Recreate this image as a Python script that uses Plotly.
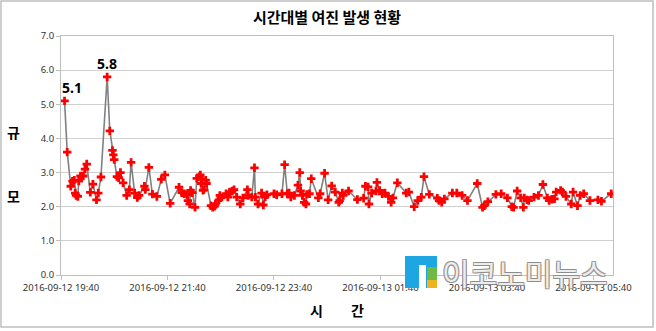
import plotly.graph_objects as go

# ---- data ----
times = [
    "2016-09-12 19:44", "2016-09-12 19:47", "2016-09-12 19:51", "2016-09-12 19:53", "2016-09-12 19:55",
    "2016-09-12 19:56", "2016-09-12 19:57", "2016-09-12 19:59", "2016-09-12 20:00", "2016-09-12 20:02",
    "2016-09-12 20:05", "2016-09-12 20:07", "2016-09-12 20:09", "2016-09-12 20:13", "2016-09-12 20:16",
    "2016-09-12 20:20", "2016-09-12 20:22", "2016-09-12 20:25", "2016-09-12 20:32", "2016-09-12 20:35",
    "2016-09-12 20:38", "2016-09-12 20:39", "2016-09-12 20:40", "2016-09-12 20:43", "2016-09-12 20:45",
    "2016-09-12 20:47", "2016-09-12 20:50", "2016-09-12 20:54", "2016-09-12 20:57", "2016-09-12 20:59",
    "2016-09-12 21:03", "2016-09-12 21:06", "2016-09-12 21:08", "2016-09-12 21:14", "2016-09-12 21:15",
    "2016-09-12 21:19", "2016-09-12 21:23", "2016-09-12 21:28", "2016-09-12 21:33", "2016-09-12 21:37",
    "2016-09-12 21:43", "2016-09-12 21:53", "2016-09-12 21:56", "2016-09-12 21:59", "2016-09-12 22:02",
    "2016-09-12 22:03", "2016-09-12 22:05", "2016-09-12 22:06", "2016-09-12 22:08", "2016-09-12 22:11",
    "2016-09-12 22:13", "2016-09-12 22:16", "2016-09-12 22:17", "2016-09-12 22:18", "2016-09-12 22:19",
    "2016-09-12 22:20", "2016-09-12 22:21", "2016-09-12 22:23", "2016-09-12 22:24", "2016-09-12 22:29",
    "2016-09-12 22:31", "2016-09-12 22:33", "2016-09-12 22:34", "2016-09-12 22:38", "2016-09-12 22:39",
    "2016-09-12 22:40", "2016-09-12 22:46", "2016-09-12 22:48", "2016-09-12 22:50", "2016-09-12 22:53",
    "2016-09-12 22:55", "2016-09-12 22:58", "2016-09-12 23:02", "2016-09-12 23:05", "2016-09-12 23:10",
    "2016-09-12 23:11", "2016-09-12 23:15", "2016-09-12 23:18", "2016-09-12 23:19", "2016-09-12 23:22",
    "2016-09-12 23:26", "2016-09-12 23:28", "2016-09-12 23:30", "2016-09-12 23:32", "2016-09-12 23:40",
    "2016-09-12 23:43", "2016-09-12 23:49", "2016-09-12 23:52", "2016-09-12 23:55", "2016-09-12 23:57",
    "2016-09-12 23:59", "2016-09-13 00:03", "2016-09-13 00:07", "2016-09-13 00:09", "2016-09-13 00:10",
    "2016-09-13 00:12", "2016-09-13 00:14", "2016-09-13 00:16", "2016-09-13 00:17", "2016-09-13 00:20",
    "2016-09-13 00:22", "2016-09-13 00:30", "2016-09-13 00:32", "2016-09-13 00:37", "2016-09-13 00:41",
    "2016-09-13 00:45", "2016-09-13 00:49", "2016-09-13 00:53", "2016-09-13 00:54", "2016-09-13 00:57",
    "2016-09-13 00:58", "2016-09-13 01:04", "2016-09-13 01:14", "2016-09-13 01:21", "2016-09-13 01:23",
    "2016-09-13 01:26", "2016-09-13 01:27", "2016-09-13 01:30", "2016-09-13 01:35", "2016-09-13 01:36",
    "2016-09-13 01:39", "2016-09-13 01:42", "2016-09-13 01:45", "2016-09-13 01:49", "2016-09-13 01:52",
    "2016-09-13 01:54", "2016-09-13 01:59", "2016-09-13 02:09", "2016-09-13 02:12", "2016-09-13 02:18",
    "2016-09-13 02:22", "2016-09-13 02:26", "2016-09-13 02:29", "2016-09-13 02:35", "2016-09-13 02:44",
    "2016-09-13 02:46", "2016-09-13 02:49", "2016-09-13 02:52", "2016-09-13 03:01", "2016-09-13 03:06",
    "2016-09-13 03:12", "2016-09-13 03:18", "2016-09-13 03:29", "2016-09-13 03:35", "2016-09-13 03:37",
    "2016-09-13 03:41", "2016-09-13 03:50", "2016-09-13 03:56", "2016-09-13 04:03", "2016-09-13 04:08",
    "2016-09-13 04:10", "2016-09-13 04:14", "2016-09-13 04:18", "2016-09-13 04:21", "2016-09-13 04:22",
    "2016-09-13 04:25", "2016-09-13 04:27", "2016-09-13 04:33", "2016-09-13 04:38", "2016-09-13 04:43",
    "2016-09-13 04:48", "2016-09-13 04:50", "2016-09-13 04:53", "2016-09-13 04:56", "2016-09-13 04:58",
    "2016-09-13 05:03", "2016-09-13 05:05", "2016-09-13 05:09", "2016-09-13 05:15", "2016-09-13 05:17",
    "2016-09-13 05:22", "2016-09-13 05:25", "2016-09-13 05:29", "2016-09-13 05:36", "2016-09-13 05:45",
    "2016-09-13 05:49", "2016-09-13 06:00",
]
magnitudes = [
    5.1, 3.6, 2.6, 2.75, 2.78,
    2.4, 2.33, 2.3, 2.75, 2.9,
    2.9, 3.1, 3.25, 2.42, 2.66,
    2.2, 2.4, 2.87, 5.8, 4.22,
    3.65, 3.52, 3.38, 2.88, 2.85,
    3.0, 2.7, 2.33, 2.5, 3.3,
    2.4, 2.27, 2.33, 2.6, 2.5,
    3.15, 2.37, 2.3, 2.8, 2.93,
    2.1, 2.57, 2.41, 2.38, 2.35,
    2.18, 2.08, 2.48, 2.41, 1.98,
    2.83, 2.88, 2.93, 2.68, 2.8,
    2.48, 2.5, 2.78, 2.68, 2.03,
    1.98, 2.01, 2.08, 2.2, 2.33,
    2.26, 2.38, 2.28, 2.43, 2.46,
    2.5, 2.28, 2.08, 2.26, 2.5,
    2.33, 2.28, 3.14, 2.28, 2.08,
    2.4, 2.05, 2.28, 2.35, 2.38,
    2.35, 2.38, 3.23, 2.38, 2.4,
    2.28, 2.33, 2.63, 3.0, 2.46,
    2.33, 2.13, 2.08, 2.36, 2.38,
    2.82, 2.26, 2.38, 2.98, 2.2,
    2.61, 2.43, 2.13, 2.18, 2.4,
    2.33, 2.46, 2.21, 2.25, 2.6,
    2.58, 2.08, 2.4, 2.46, 2.71,
    2.48, 2.38, 2.4, 2.3, 2.13,
    2.26, 2.7, 2.4, 2.43, 2.0,
    2.18, 2.28, 2.88, 2.36, 2.25,
    2.18, 2.13, 2.23, 2.4, 2.4,
    2.33, 2.18, 2.68, 1.98, 2.03,
    2.15, 2.36, 2.38, 2.26, 2.0,
    1.98, 2.46, 2.26, 1.98, 2.26,
    2.2, 2.18, 2.28, 2.33, 2.65,
    2.26, 2.18, 2.22, 2.23, 2.43,
    2.48, 2.43, 2.3, 2.08, 2.43,
    2.03, 2.33, 2.38, 2.18, 2.2,
    2.16, 2.38,
]
labelled_times = ["2016-09-12 19:44", "2016-09-12 20:32"]
labelled_values = [5.1, 5.8]
label_xshift = [7, 0]

title_text = "시간대별 여진 발생 현황"
x_title_chars = ["시", "간"]
y_title_chars = ["규", "모"]

KR = "Noto Sans CJK KR"
NUM = "Noto Sans"

fig = go.Figure()
fig.add_trace(go.Scatter(
    x=times, y=magnitudes, mode="lines+markers",
    line=dict(color="#808080", width=1.6),
    marker=dict(symbol="cross", size=7, color="#ff0000",
                line=dict(width=0)),
    showlegend=False,
))

for t, v, xs in zip(labelled_times, labelled_values, label_xshift):
    fig.add_annotation(x=t, y=v, text=f"{v:.1f}", showarrow=False,
                       yshift=13, xshift=xs, xref="x", yref="y",
                       font=dict(family=NUM, size=14, color="#000000", weight="bold"))

fig.update_layout(
    width=656, height=331,
    margin=dict(l=61, r=43, t=36, b=56),
    paper_bgcolor="white", plot_bgcolor="white",
    title=dict(text=title_text, x=(327 / 656), xanchor="center", y=1 - 18 / 331, yanchor="middle",
               font=dict(family=KR, size=15, color="#000000", weight="bold")),
    xaxis=dict(
        type="date",
        range=["2016-09-12 19:40", "2016-09-13 06:02"],
        tick0="2016-09-12 19:40", dtick=2 * 3600 * 1000,
        tickformat="%Y-%m-%d %H:%M",
        showgrid=False, zeroline=False,
        showline=True, linecolor="#bfbfbf", linewidth=1, mirror=True,
        ticks="outside", ticklen=4, tickcolor="#bfbfbf",
        tickfont=dict(family=NUM, size=9.5, color="#333333"),
    ),
    yaxis=dict(
        range=[0, 7], dtick=1, tick0=0, tickformat=".1f",
        showgrid=True, gridcolor="#d0d0d0", gridwidth=1.3,
        zeroline=False,
        showline=True, linecolor="#bfbfbf", linewidth=1, mirror=True,
        ticks="outside", ticklen=4, tickcolor="#bfbfbf",
        tickfont=dict(family=NUM, size=9.5, color="#333333"),
    ),
)


def px(xp):
    return (xp - 61) / 552


def py_(yp):
    return (275 - yp) / 239


# axis titles
for ch, xp in zip(x_title_chars, [316, 358]):
    fig.add_annotation(text=ch, xref="paper", yref="paper",
                       x=px(xp), y=py_(310), showarrow=False,
                       xanchor="center", yanchor="middle",
                       font=dict(family=KR, size=14, color="#000000", weight="bold"))
for ch, yp in zip(y_title_chars, [132, 196]):
    fig.add_annotation(text=ch, xref="paper", yref="paper",
                       x=px(13), y=py_(yp), showarrow=False,
                       xanchor="center", yanchor="middle",
                       font=dict(family=KR, size=14, color="#000000", weight="bold"))

# chart-area border
fig.add_shape(type="rect", xref="paper", yref="paper",
              x0=px(1), x1=px(653), y0=py_(327), y1=py_(1),
              line=dict(color="#bfbfbf", width=1.5), fillcolor="rgba(0,0,0,0)", layer="below")

# watermark logo
fig.add_shape(type="rect", xref="paper", yref="paper",
              x0=px(405), x1=px(437), y0=py_(288), y1=py_(256),
              line=dict(width=0), fillcolor="#1ea6e3", layer="above")
fig.add_shape(type="rect", xref="paper", yref="paper",
              x0=px(427), x1=px(437), y0=py_(288), y1=py_(267),
              line=dict(width=0), fillcolor="#6dbb45", layer="above")
fig.add_shape(type="rect", xref="paper", yref="paper",
              x0=px(427), x1=px(437), y0=py_(288), y1=py_(280),
              line=dict(width=0), fillcolor="#f2b21b", layer="above")
fig.add_shape(type="rect", xref="paper", yref="paper",
              x0=px(419), x1=px(426), y0=py_(288), y1=py_(265),
              line=dict(width=0), fillcolor="white", layer="above")
fig.add_annotation(text="이코노미뉴스", xref="paper", yref="paper",
                   x=px(440), y=py_(272), xanchor="left", yanchor="middle", showarrow=False,
                   font=dict(family=KR, size=30, color="rgba(255,255,255,0.85)",
                             shadow="-1px -1px 0 #8a8a8a, 1px -1px 0 #8a8a8a, -1px 1px 0 #8a8a8a, 1px 1px 0 #8a8a8a"))

fig.write_html("out.html")
